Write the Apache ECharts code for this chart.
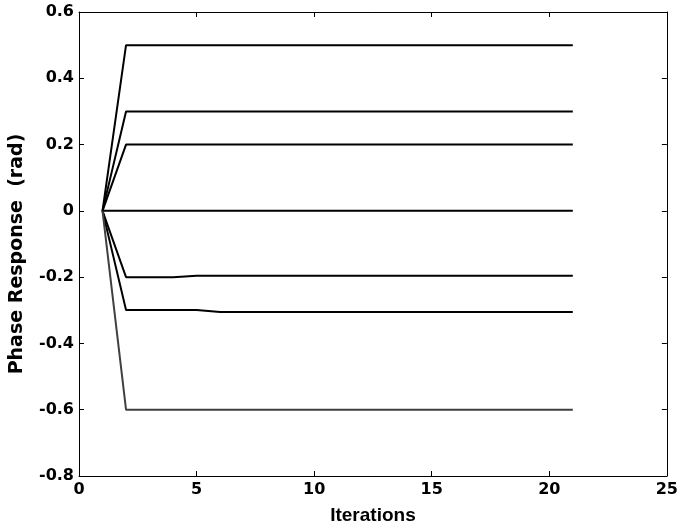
<!DOCTYPE html>
<html><head><meta charset="utf-8">
<script src="https://cdn.jsdelivr.net/npm/echarts@6/dist/echarts.min.js"></script>
<style>html,body{margin:0;padding:0;background:#fff}#c{width:681px;height:530px}</style>
</head><body><div id="c"></div>
<script>
const iterations = [1,2,3,4,5,6,7,8,9,10,11,12,13,14,15,16,17,18,19,20,21];
const seriesA = [0,0.5,0.5,0.5,0.5,0.5,0.5,0.5,0.5,0.5,0.5,0.5,0.5,0.5,0.5,0.5,0.5,0.5,0.5,0.5,0.5];
const seriesB = [0,0.3,0.3,0.3,0.3,0.3,0.3,0.3,0.3,0.3,0.3,0.3,0.3,0.3,0.3,0.3,0.3,0.3,0.3,0.3,0.3];
const seriesC = [0,0.2,0.2,0.2,0.2,0.2,0.2,0.2,0.2,0.2,0.2,0.2,0.2,0.2,0.2,0.2,0.2,0.2,0.2,0.2,0.2];
const seriesD = [0,0,0,0,0,0,0,0,0,0,0,0,0,0,0,0,0,0,0,0,0];
const seriesE = [0,-0.2,-0.2,-0.2,-0.196,-0.196,-0.196,-0.196,-0.196,-0.196,-0.196,-0.196,-0.196,-0.196,-0.196,-0.196,-0.196,-0.196,-0.196,-0.196,-0.196];
const seriesF = [0,-0.299,-0.299,-0.299,-0.299,-0.305,-0.305,-0.305,-0.305,-0.305,-0.305,-0.305,-0.305,-0.305,-0.305,-0.305,-0.305,-0.305,-0.305,-0.305,-0.305];
const seriesG = [0,-0.6,-0.6,-0.6,-0.6,-0.6,-0.6,-0.6,-0.6,-0.6,-0.6,-0.6,-0.6,-0.6,-0.6,-0.6,-0.6,-0.6,-0.6,-0.6,-0.6];
const blackSeries = [seriesA, seriesB, seriesC, seriesD, seriesE, seriesF];
const graySeries = [seriesG];
const xTitle = 'Iterations';
const yTitle = 'Phase Response  (rad)';

const tickFont = '"DejaVu Sans", sans-serif';
const titleFont = '"Liberation Sans", Arial, sans-serif';
const chart = echarts.init(document.getElementById('c'));
const mk = (vals, color) => ({
  type: 'line', data: iterations.map((x, i) => [x, vals[i]]),
  showSymbol: false, symbol: 'none', animation: false,
  lineStyle: { color: color, width: 2 }, z: 3
});
const tickStyle = { show: true, inside: true, length: 5, lineStyle: { color: '#000', width: 1 } };
chart.setOption({
  animation: false,
  grid: { left: 79, right: 13, top: 12, bottom: 54, containLabel: false },
  xAxis: [{
    type: 'value', min: 0, max: 25, interval: 5, position: 'bottom',
    name: xTitle, nameLocation: 'middle', nameGap: 30,
    nameTextStyle: { fontFamily: titleFont, fontWeight: 'bold', fontSize: 19, color: '#000' },
    axisLine: { show: true, onZero: false, lineStyle: { color: '#000', width: 1 } },
    axisTick: tickStyle, splitLine: { show: false },
    axisLabel: { fontFamily: tickFont, fontWeight: 'bold', fontSize: 16, color: '#000', margin: 6 }
  }, {
    type: 'value', min: 0, max: 25, interval: 5, position: 'top',
    axisLine: { show: true, onZero: false, lineStyle: { color: '#000', width: 1 } },
    axisTick: tickStyle, splitLine: { show: false }, axisLabel: { show: false }
  }],
  yAxis: [{
    type: 'value', min: -0.8, max: 0.6, interval: 0.2, position: 'left',
    axisLine: { show: true, onZero: false, lineStyle: { color: '#000', width: 1 } },
    axisTick: tickStyle, splitLine: { show: false },
    axisLabel: { fontFamily: tickFont, fontWeight: 'bold', fontSize: 16, color: '#000', margin: 5,
      formatter: v => { const r = Math.round(v * 10) / 10; return r === 0 ? '0' : String(r); } }
  }, {
    type: 'value', min: -0.8, max: 0.6, interval: 0.2, position: 'right',
    axisLine: { show: true, onZero: false, lineStyle: { color: '#000', width: 1 } },
    axisTick: tickStyle, splitLine: { show: false }, axisLabel: { show: false }
  }],
  graphic: [{
    type: 'text', x: 17, y: 254, rotation: Math.PI / 2,
    style: { text: yTitle, fontFamily: '"DejaVu Sans", sans-serif', fontWeight: 'bold', fontSize: 19,
      fill: '#000', align: 'center', verticalAlign: 'middle' }
  }],
  series: [
    ...blackSeries.map(s => mk(s, '#000000')),
    ...graySeries.map(s => mk(s, '#404040'))
  ]
});
</script></body></html>
